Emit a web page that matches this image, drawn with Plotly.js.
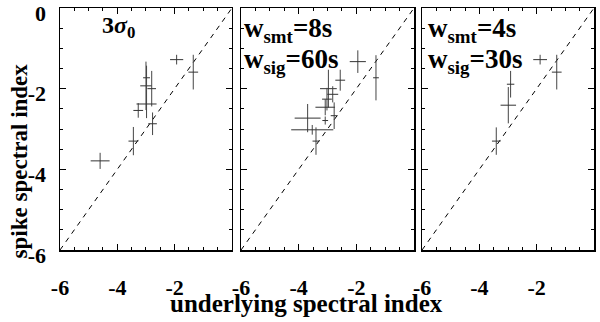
<!DOCTYPE html>
<html>
<head>
<meta charset="utf-8">
<script src="https://cdn.plot.ly/plotly-3.0.1.min.js"></script>
<style>
  html, body { margin: 0; padding: 0; background: #fff; }
  #chart { width: 600px; height: 322px; }
</style>
</head>
<body>
<div id="chart"></div>
<script>
// panel 1: 3 sigma threshold
var p1_x    = [-4.60, -3.44, -3.27, -3.00, -2.98, -2.80, -2.98, -2.77, -1.93, -1.35];
var p1_y    = [-3.79, -3.30, -2.54, -1.93, -1.73, -2.00, -2.38, -2.87, -1.28, -1.59];
var p1_xerr = [0.33, 0.17, 0.17, 0.20, 0.12, 0.15, 0.35, 0.15, 0.23, 0.17];
var p1_yerr = [0.20, 0.35, 0.18, 0.60, 0.30, 0.44, 0.35, 0.28, 0.12, 0.43];

// panel 2: w_smt = 8s, w_sig = 60s
var p2_x    = [-1.95, -1.32, -2.56, -2.97, -3.02, -2.82, -3.08, -2.77, -3.08, -3.69, -3.53, -3.40];
var p2_y    = [-1.33, -1.73, -1.79, -2.00, -2.26, -2.14, -2.46, -2.67, -2.79, -2.73, -3.02, -3.30];
var p2_xerr = [0.28, 0.10, 0.17, 0.29, 0.17, 0.19, 0.34, 0.12, 0.10, 0.45, 0.73, 0.12];
var p2_yerr = [0.28, 0.56, 0.26, 0.47, 0.28, 0.20, 0.20, 0.33, 0.10, 0.35, 0.12, 0.34];

// panel 3: w_smt = 4s, w_sig = 30s
var p3_x    = [-1.88, -1.30, -2.91, -2.99, -3.41];
var p3_y    = [-1.28, -1.59, -1.89, -2.41, -3.30];
var p3_xerr = [0.24, 0.17, 0.13, 0.27, 0.15];
var p3_yerr = [0.12, 0.43, 0.33, 0.45, 0.34];

var diag = [-6, 0];
var xTicks = [-6, -4, -2];
var xTickText = ['<b>-6</b>', '<b>-4</b>', '<b>-2</b>'];
var yTicks = [-6, -4, -2, 0];
var yTickText = ['<b>-6</b>', '<b>-4</b>', '<b>-2</b>', '<b>0</b>'];

var label1 = '<b>3<i>σ</i><sub>0</sub></b>';
var label2 = ['<b>w<sub>smt</sub>=8s</b>', '<b>w<sub>sig</sub>=60s</b>'];
var label3 = ['<b>w<sub>smt</sub>=4s</b>', '<b>w<sub>sig</sub>=30s</b>'];

var serif = 'Liberation Serif';

function pointsTrace(x, y, xerr, yerr, n) {
    var sfx = n === 1 ? '' : String(n);
    return {
        x: x, y: y,
        xaxis: 'x' + sfx, yaxis: 'y' + sfx,
        mode: 'markers',
        type: 'scatter',
        marker: {size: 2, color: 'rgba(0,0,0,0)'},
        error_x: {type: 'data', array: xerr, visible: true, color: '#333', thickness: 1, width: 0},
        error_y: {type: 'data', array: yerr, visible: true, color: '#444', thickness: 1, width: 0},
        hoverinfo: 'skip',
        showlegend: false
    };
}

function diagTrace(n) {
    var sfx = n === 1 ? '' : String(n);
    return {
        x: diag, y: diag,
        xaxis: 'x' + sfx, yaxis: 'y' + sfx,
        mode: 'lines',
        type: 'scatter',
        line: {color: '#000', width: 1, dash: '5px,5px'},
        hoverinfo: 'skip',
        showlegend: false
    };
}

var data = [
    diagTrace(1), diagTrace(2), diagTrace(3),
    pointsTrace(p1_x, p1_y, p1_xerr, p1_yerr, 1),
    pointsTrace(p2_x, p2_y, p2_xerr, p2_yerr, 2),
    pointsTrace(p3_x, p3_y, p3_xerr, p3_yerr, 3)
];

function xAxis(domain, anchor) {
    return {
        domain: domain, anchor: anchor,
        range: [-6, 0],
        tickvals: xTicks, ticktext: xTickText,
        ticks: 'inside', ticklen: 6, tickwidth: 1, tickcolor: '#000',
        minor: {dtick: 0.5, ticks: 'inside', ticklen: 3, tickcolor: '#000'},
        showline: true, linecolor: '#000', linewidth: 1.5, mirror: 'ticks',
        showgrid: false, zeroline: false,
        ticklabelstandoff: 17,
        tickfont: {family: serif, size: 22, color: '#000'}
    };
}

function yAxis(anchor, labels) {
    return {
        anchor: anchor,
        domain: [0, 1],
        range: [-6, 0],
        tickvals: yTicks, ticktext: yTickText,
        showticklabels: labels,
        ticks: 'inside', ticklen: 6, tickwidth: 1, tickcolor: '#000',
        minor: {dtick: 0.5, ticks: 'inside', ticklen: 3, tickcolor: '#000'},
        showline: true, linecolor: '#000', linewidth: 1.5, mirror: 'ticks',
        showgrid: false, zeroline: false,
        ticklabelstandoff: 8,
        ticklabelshift: 5,
        ticklabeloverflow: 'allow',
        tickfont: {family: serif, size: 22, color: '#000'}
    };
}

function note(text, xref, yref, x, y, size) {
    return {text: text, xref: xref, yref: yref, x: x, y: y, xanchor: 'left', yanchor: 'middle',
            showarrow: false, font: {family: serif, size: size, color: '#000'}};
}

var annotations = [
    note(label1, 'x', 'y', -4.6, -0.46, 24),
    note(label2[0], 'x2', 'y2', -5.95, -0.55, 27),
    note(label2[1], 'x2', 'y2', -5.95, -1.32, 27),
    note(label3[0], 'x3', 'y3', -5.85, -0.55, 27),
    note(label3[1], 'x3', 'y3', -5.85, -1.32, 27),
    {text: '<b>underlying spectral index</b>', xref: 'paper', yref: 'paper', x: 0.461, y: -0.22,
     xanchor: 'center', yanchor: 'middle', showarrow: false,
     font: {family: serif, size: 25, color: '#000'}},
    {text: '<b>spike spectral index</b>', xref: 'paper', yref: 'paper', x: -0.075, y: 0.37,
     xanchor: 'center', yanchor: 'middle', showarrow: false, textangle: -90,
     font: {family: serif, size: 23, color: '#000'}}
];

var layout = {
    width: 600, height: 322,
    margin: {l: 60, r: 6, t: 8, b: 72},
    paper_bgcolor: '#fff', plot_bgcolor: '#fff',
    font: {family: serif, color: '#000'},
    xaxis: xAxis([0, 0.322], 'y'),
    xaxis2: xAxis([0.339, 0.663], 'y2'),
    xaxis3: xAxis([0.678, 1], 'y3'),
    yaxis: yAxis('x', true),
    yaxis2: yAxis('x2', false),
    yaxis3: yAxis('x3', false),
    annotations: annotations
};

var config = {displayModeBar: false, staticPlot: true};

Plotly.newPlot('chart', data, layout, config);
</script>
</body>
</html>
